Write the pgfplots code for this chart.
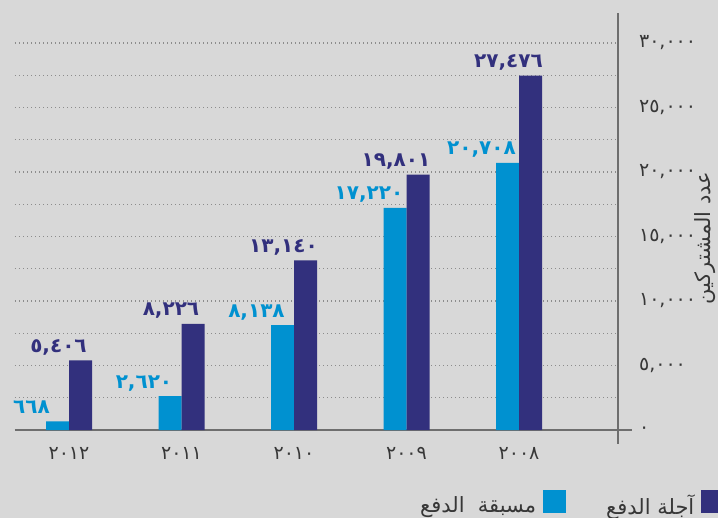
\documentclass[border=0pt]{standalone}
\usepackage{pgfplots}
\pgfplotsset{compat=1.18}
\usepackage{fontspec}
\setmainfont{DejaVu Sans}
\newfontfamily\arabicfont[Script=Arabic]{DejaVu Sans}
\TeXXeTstate=1
\definecolor{prepaid}{RGB}{0,145,208}
\definecolor{postpaid}{RGB}{50,48,125}
\definecolor{bg}{RGB}{216,216,216}
\definecolor{axisgray}{RGB}{110,110,110}
\definecolor{gridgray}{RGB}{140,140,140}
\definecolor{ticktext}{RGB}{55,55,55}
\begin{document}
\begin{tikzpicture}
\fill[bg] (0,0) rectangle (359pt,-259pt);
\begin{axis}[
    at={(7.5pt,-215pt)}, anchor=south west,
    scale only axis,
    width=301.5pt, height=208.5pt,
    clip=false,
    ybar=0pt, bar width=11.5pt,
    xmin=-0.48, xmax=4.88,
    ymin=0, ymax=32326,
    scaled y ticks=false,
    axis x line*=bottom, axis y line*=right,
    axis line style={axisgray, line width=1pt},
    xtick={0,1,2,3,4},
    xticklabels={{٢٠١٢},{٢٠١١},{٢٠١٠},{٢٠٠٩},{٢٠٠٨}},
    ytick={0,5000,10000,15000,20000,25000,30000},
    yticklabels={{٠},{٥,٠٠٠},{١٠,٠٠٠},{١٥,٠٠٠},{٢٠,٠٠٠},{٢٥,٠٠٠},{٣٠,٠٠٠}},
    minor ytick={2500,7500,12500,17500,22500,27500},
    major tick length=0pt, minor tick length=0pt,
    ymajorgrids, yminorgrids,
    major grid style={gridgray, line width=0.6pt, dash pattern=on 0.6pt off 1.4pt},
    minor grid style={gridgray, line width=0.6pt, dash pattern=on 0.6pt off 1.4pt},
    tick label style={font=\arabicfont\fontsize{9.5}{11}\selectfont, text=ticktext},
    yticklabel style={anchor=west, xshift=7pt},
    xticklabel style={yshift=-5pt},
    every axis y label/.style={at={(axis description cs:1.144,0.46)}, rotate=90, anchor=center},
    ylabel={\arabicfont\fontsize{10.5}{12}\selectfont\color{ticktext}\beginR عدد المشتركين\endR},
    point meta=explicit symbolic,
    nodes near coords,
    legend plot pos=right,
    legend columns=2,
    legend image code/.code={\fill[#1] (0pt,-3.5pt) rectangle (11.5pt,8pt);},
    legend style={at={(axis description cs:1.177,-0.22)}, anchor=south east,
        draw=none, fill=none, inner sep=0pt,
        font=\arabicfont\fontsize{10.5}{12}\selectfont, text=ticktext,
        /tikz/every even column/.append style={column sep=18pt},
        /tikz/every odd column/.append style={column sep=1.5pt}},
]
\addplot[fill=prepaid, draw=none,
    every node near coord/.append style={anchor=base, yshift=4pt, xshift=-13pt, text=prepaid,
        font=\arabicfont\bfseries\fontsize{10}{12}\selectfont}]
    coordinates {(0,668) [٦٦٨] (1,2620) [٢,٦٢٠] (2,8138) [٨,١٣٨] (3,17220) [١٧,٢٢٠] (4,20708) [٢٠,٧٠٨]};
\addplot[fill=postpaid, draw=none,
    every node near coord/.append style={anchor=base, yshift=4pt, xshift=-11pt, text=postpaid,
        font=\arabicfont\bfseries\fontsize{10}{12}\selectfont}]
    coordinates {(0,5406) [٥,٤٠٦] (1,8226) [٨,٢٢٦] (2,13140) [١٣,١٤٠] (3,19801) [١٩,٨٠١] (4,27476) [٢٧,٤٧٦]};
\legend{{\beginR مسبقة\ \ الدفع\endR},{\beginR آجلة الدفع\endR}}
\draw[axisgray, line width=1pt] (rel axis cs:1,0) -- ([yshift=-7pt]rel axis cs:1,0);
\draw[axisgray, line width=1pt] (rel axis cs:1,0) -- ([xshift=7pt]rel axis cs:1,0);
\end{axis}
\pgfresetboundingbox
\path[use as bounding box] (0,0) rectangle (359pt,-259pt);
\end{tikzpicture}
\end{document}
